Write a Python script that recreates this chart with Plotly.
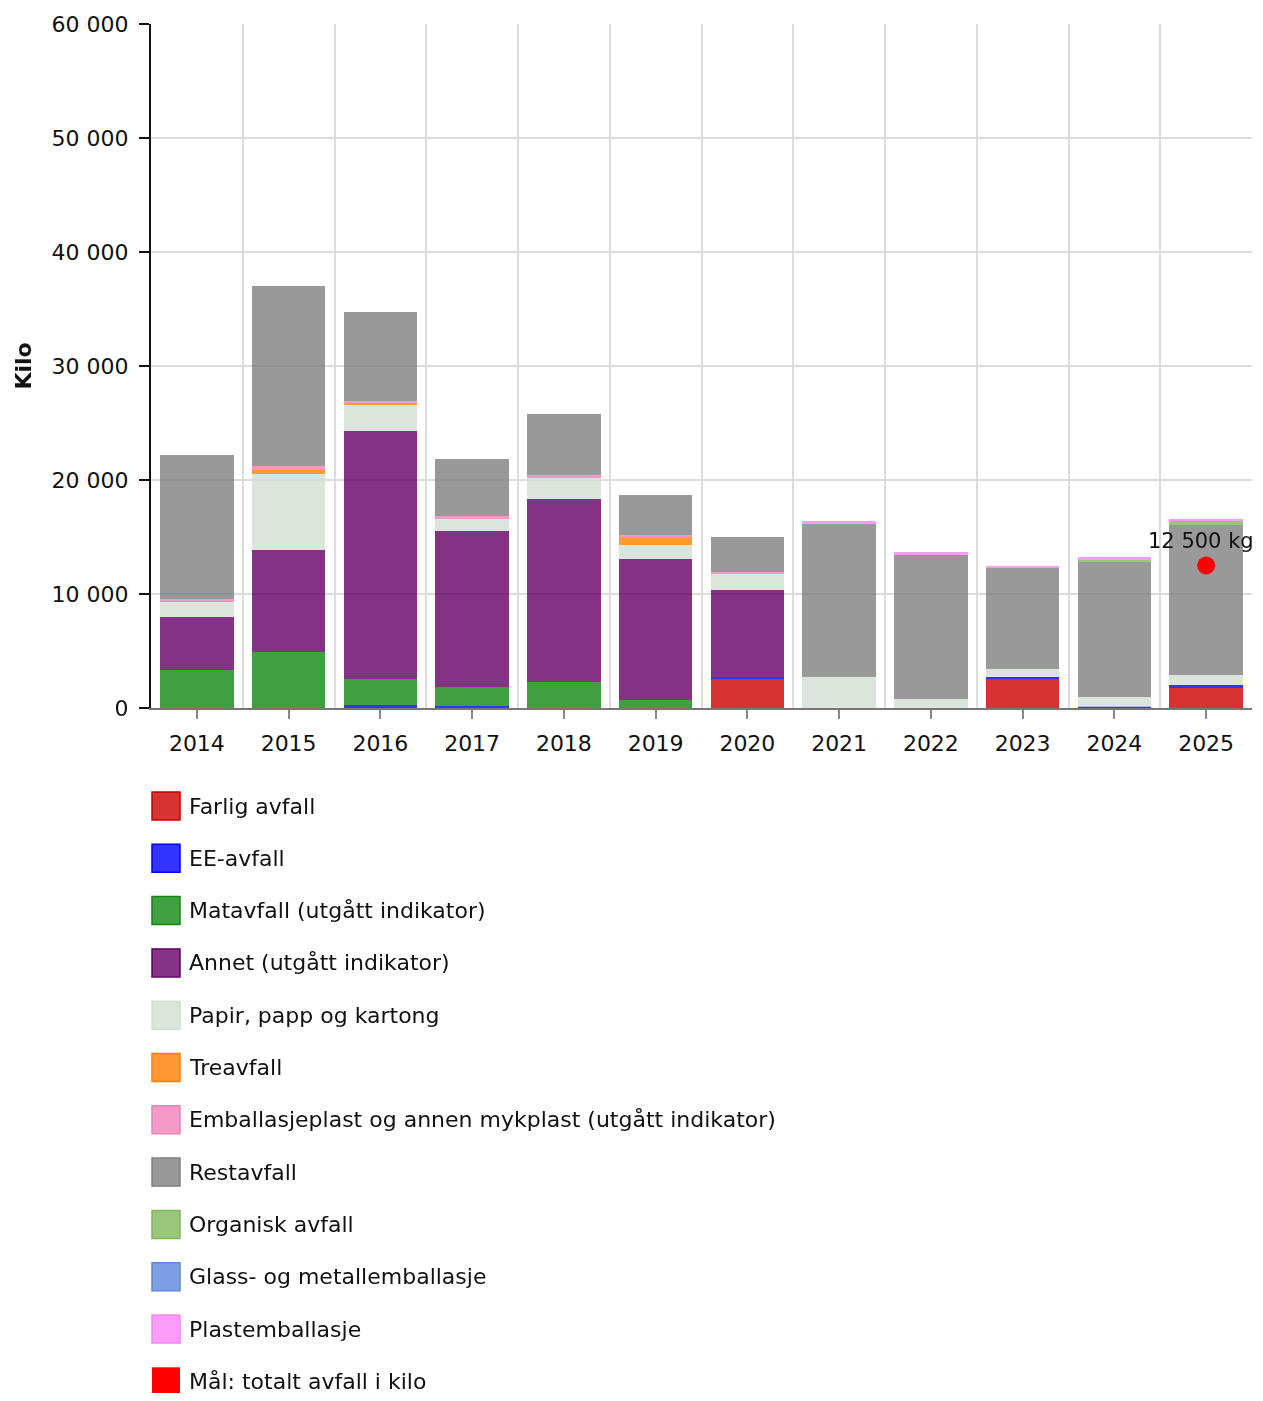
import plotly.graph_objects as go

years = [2014, 2015, 2016, 2017, 2018, 2019, 2020, 2021, 2022, 2023, 2024, 2025]

farlig = [0, 0, 0, 0, 0, 0, 2540, 0, 0, 2540, 0, 1750]
ee_avfall = [0, 0, 300, 150, 0, 0, 180, 0, 0, 200, 100, 270]
matavfall = [3350, 4900, 2240, 1650, 2320, 700, 0, 0, 0, 0, 0, 0]
annet = [4620, 8950, 21760, 13730, 16000, 12370, 7630, 0, 0, 0, 0, 0]
papir = [1410, 6670, 2280, 1050, 1930, 1230, 1400, 2720, 790, 670, 860, 870]
treavfall = [0, 350, 180, 0, 0, 700, 0, 0, 0, 0, 0, 0]
emballasjeplast = [150, 350, 150, 290, 150, 180, 180, 0, 0, 0, 0, 0]
restavfall = [12660, 15790, 7830, 4970, 5380, 3500, 3070, 13380, 12590, 8860, 11820, 13160]
organisk = [0, 0, 0, 0, 0, 0, 0, 0, 0, 0, 180, 350]
glass_metall = [0, 0, 0, 0, 0, 0, 0, 0, 0, 0, 0, 0]
plastemballasje = [0, 0, 0, 0, 0, 0, 0, 300, 300, 180, 290, 180]

maal_years = [2025]
maal_values = [12500]

series_names = [
    "Farlig avfall",
    "EE-avfall",
    "Matavfall (utgått indikator)",
    "Annet (utgått indikator)",
    "Papir, papp og kartong",
    "Treavfall",
    "Emballasjeplast og annen mykplast (utgått indikator)",
    "Restavfall",
    "Organisk avfall",
    "Glass- og metallemballasje",
    "Plastemballasje",
]
series_values = [farlig, ee_avfall, matavfall, annet, papir, treavfall,
                 emballasjeplast, restavfall, organisk, glass_metall, plastemballasje]
series_colors = ["#cc0000", "#0000ff", "#118811", "#660066", "#d2dfd2", "#ff8000",
                 "#ef81ba", "#808080", "#81b85a", "#5f87de", "#f884f7"]
maal_name = "Mål: totalt avfall i kilo"
maal_color = "#ff0000"

FONT = "DejaVu Sans"
FS = 22

fig = go.Figure()
for name, vals, col in zip(series_names, series_values, series_colors):
    fig.add_trace(go.Bar(x=years, y=vals, name=name, marker=dict(color=col, line=dict(width=0)),
                         opacity=0.8, showlegend=False))

fig.add_trace(go.Scatter(
    x=maal_years, y=maal_values, mode="markers", name=maal_name,
    marker=dict(color=maal_color, size=18),
    showlegend=False, cliponaxis=False,
))

W, H = 1247, 1385
ML, MR, MT, MB = 143, 3, 16, 685
PW = W - ML - MR
PH = H - MT - MB

def py(yfig):
    return 1 - (yfig - MT) / PH

def px(xfig):
    return (xfig - ML) / PW

def rgba(hexcol, a):
    h = hexcol.lstrip("#")
    r, g, b = int(h[0:2], 16), int(h[2:4], 16), int(h[4:6], 16)
    return f"rgba({r},{g},{b},{a})"

annotations = []
for xv, yv in zip(maal_years, maal_values):
    annotations.append(dict(
        x=xv, y=yv, xref="x", yref="y",
        text=f"{yv:,}".replace(",", " ") + " kg",
        showarrow=False, xanchor="center", yanchor="bottom",
        yshift=11, xshift=-5,
        font=dict(size=21, color="#111", family=FONT),
    ))

legend_items = list(zip(series_names, series_colors)) + [(maal_name, maal_color)]
shapes = []
first_center = 798
spacing = 52.3
for i, (name, col) in enumerate(legend_items):
    cy = first_center + i * spacing
    is_maal = name == maal_name
    shapes.append(dict(
        type="rect", xref="paper", yref="paper",
        x0=px(144), x1=px(172), y0=py(cy + 14), y1=py(cy - 14),
        fillcolor=col if is_maal else rgba(col, 0.8),
        line=dict(color=col, width=0 if is_maal else 1.5),
        layer="above",
    ))
    annotations.append(dict(
        text=name, xref="paper", yref="paper", x=px(179), y=py(cy),
        xanchor="left", yanchor="middle", showarrow=False,
        font=dict(size=FS, color="#111", family=FONT),
    ))

grid_col = "#dcdcdc"
fig.update_layout(
    width=W, height=H, autosize=False,
    margin=dict(l=ML, r=MR, t=MT, b=MB, pad=0),
    barmode="stack", bargap=0.2,
    plot_bgcolor="white", paper_bgcolor="white",
    font=dict(family=FONT, size=FS, color="#111"),
    separators=", ",
    shapes=shapes, annotations=annotations,
    showlegend=False,
    xaxis=dict(
        range=[years[0] - 0.5, years[-1] + 0.5],
        tickmode="array", tickvals=years, ticktext=[str(y) for y in years],
        ticks="outside", ticklen=9, tickwidth=1.5, tickcolor="#888",
        ticklabelstandoff=6,
        showline=True, linecolor="#777", linewidth=2,
        showgrid=False, zeroline=False,
        minor=dict(tickmode="array", tickvals=[y - 0.5 for y in years] + [years[-1] + 0.5],
                   showgrid=True, gridcolor=grid_col, gridwidth=1.5, ticks=""),
        tickfont=dict(size=FS, color="#111"),
        fixedrange=True,
    ),
    yaxis=dict(
        range=[0, 60000], tick0=0, dtick=10000, tickformat=",",
        ticks="outside", ticklen=10, tickwidth=1.5, tickcolor="#111",
        ticklabelstandoff=6,
        showline=True, linecolor="#111", linewidth=2,
        showgrid=True, gridcolor=grid_col, gridwidth=1.5, zeroline=False,
        title=dict(text="<b>Kilo</b>", font=dict(size=FS, color="#111"), standoff=14),
        tickfont=dict(size=FS, color="#111"),
        fixedrange=True,
    ),
)

fig.write_html("out.html")
